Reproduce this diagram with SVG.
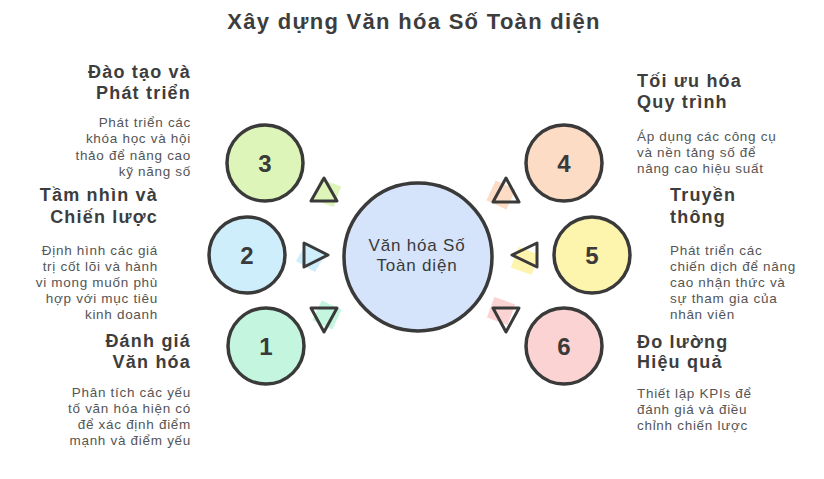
<svg xmlns="http://www.w3.org/2000/svg" width="824" height="479" viewBox="0 0 824 479">
<style>
  .title{font-family:"Liberation Sans",Arial,sans-serif;font-weight:bold;font-size:22px;letter-spacing:1.3px;fill:#3d3d3d}
  .head{font-family:"Liberation Sans",Arial,sans-serif;font-weight:bold;font-size:18px;letter-spacing:1.2px;fill:#3d3d3d}
  .desc{font-family:"Liberation Sans",Arial,sans-serif;font-size:13.5px;letter-spacing:0.7px;fill:#555}
  .num{font-family:"Liberation Sans",Arial,sans-serif;font-weight:bold;font-size:24px;fill:#3a3a3a}
  .ctr{font-family:"Liberation Sans",Arial,sans-serif;font-size:17px;letter-spacing:0.8px;fill:#3a3a3a}
  .ring{stroke:#3a3a3a;stroke-width:3.5}
  .tri{fill:none;stroke:#3a3a3a;stroke-width:3;stroke-linejoin:round}
  .r{text-anchor:end}
  .m{text-anchor:middle}
</style>
<rect width="824" height="479" fill="#ffffff"/>
<text class="title m" x="414" y="29">Xây dựng Văn hóa Số Toàn diện</text>

<g id="center">
  <circle class="ring" cx="418" cy="257" r="74" fill="#d6e4fb"/>
  <text class="ctr m" x="417" y="251">Văn hóa Số</text>
  <text class="ctr m" x="417" y="271">Toàn diện</text>
</g>

<g id="node3">
  <circle class="ring" cx="265" cy="163" r="38" fill="#ddf5b8"/>
  <text class="num m" x="265" y="172">3</text>
</g>
<g id="node2">
  <circle class="ring" cx="247" cy="255" r="38" fill="#cfeefc"/>
  <text class="num m" x="247" y="264">2</text>
</g>
<g id="node1">
  <circle class="ring" cx="266" cy="346" r="38" fill="#c4f5df"/>
  <text class="num m" x="266" y="355">1</text>
</g>
<g id="node4">
  <circle class="ring" cx="564" cy="163" r="38" fill="#fcdcc4"/>
  <text class="num m" x="564" y="172">4</text>
</g>
<g id="node5">
  <circle class="ring" cx="592" cy="255" r="38" fill="#fdf4ad"/>
  <text class="num m" x="592" y="264">5</text>
</g>
<g id="node6">
  <circle class="ring" cx="564" cy="346" r="38" fill="#fbd3d3"/>
  <text class="num m" x="564" y="355">6</text>
</g>

<g id="connectors">
  <rect x="316" y="182" width="22" height="22" fill="#ddf5b8" transform="rotate(20 327 193)"/>
  <polygon class="tri" points="324,178 337,201 311,201"/>
  <rect x="300" y="246" width="22" height="22" fill="#cfeefc" transform="rotate(30 311 257)"/>
  <polygon class="tri" points="304,243 328,255 304,267"/>
  <rect x="316" y="304" width="22" height="22" fill="#c4f5df" transform="rotate(25 327 315)"/>
  <polygon class="tri" points="311,308 337,308 324,332"/>
  <rect x="490" y="184" width="22" height="22" fill="#fcdcc4" transform="rotate(25 501 195)"/>
  <polygon class="tri" points="506,178 519,202 493,202"/>
  <rect x="514" y="250" width="22" height="22" fill="#fdf4ad" transform="rotate(20 525 261)"/>
  <polygon class="tri" points="512,255 537,243 537,267"/>
  <rect x="490" y="300" width="22" height="22" fill="#fbd3d3" transform="rotate(20 501 311)"/>
  <polygon class="tri" points="493,308 519,308 506,332"/>
</g>

<g id="label3">
  <text class="head r" x="191" y="78">Đào tạo và</text>
  <text class="head r" x="191" y="99">Phát triển</text>
  <text class="desc r" x="191" y="127">Phát triển các</text>
  <text class="desc r" x="191" y="143">khóa học và hội</text>
  <text class="desc r" x="191" y="160">thảo để nâng cao</text>
  <text class="desc r" x="191" y="176">kỹ năng số</text>
</g>
<g id="label2">
  <text class="head r" x="158" y="201">Tầm nhìn và</text>
  <text class="head r" x="158" y="223">Chiến lược</text>
  <text class="desc r" x="158" y="255">Định hình các giá</text>
  <text class="desc r" x="158" y="271">trị cốt lõi và hành</text>
  <text class="desc r" x="158" y="287">vi mong muốn phù</text>
  <text class="desc r" x="158" y="303">hợp với mục tiêu</text>
  <text class="desc r" x="158" y="319">kinh doanh</text>
</g>
<g id="label1">
  <text class="head r" x="191" y="347">Đánh giá</text>
  <text class="head r" x="191" y="368">Văn hóa</text>
  <text class="desc r" x="191" y="397">Phân tích các yếu</text>
  <text class="desc r" x="191" y="413">tố văn hóa hiện có</text>
  <text class="desc r" x="191" y="429">để xác định điểm</text>
  <text class="desc r" x="191" y="445">mạnh và điểm yếu</text>
</g>
<g id="label4">
  <text class="head" x="637" y="87">Tối ưu hóa</text>
  <text class="head" x="637" y="108">Quy trình</text>
  <text class="desc" x="637" y="141">Áp dụng các công cụ</text>
  <text class="desc" x="637" y="157">và nền tảng số để</text>
  <text class="desc" x="637" y="173">nâng cao hiệu suất</text>
</g>
<g id="label5">
  <text class="head" x="670" y="201">Truyền</text>
  <text class="head" x="670" y="223">thông</text>
  <text class="desc" x="670" y="255">Phát triển các</text>
  <text class="desc" x="670" y="271">chiến dịch để nâng</text>
  <text class="desc" x="670" y="287">cao nhận thức và</text>
  <text class="desc" x="670" y="303">sự tham gia của</text>
  <text class="desc" x="670" y="319">nhân viên</text>
</g>
<g id="label6">
  <text class="head" x="637" y="348">Đo lường</text>
  <text class="head" x="637" y="368">Hiệu quả</text>
  <text class="desc" x="637" y="398">Thiết lập KPIs để</text>
  <text class="desc" x="637" y="414">đánh giá và điều</text>
  <text class="desc" x="637" y="430">chỉnh chiến lược</text>
</g>
</svg>
